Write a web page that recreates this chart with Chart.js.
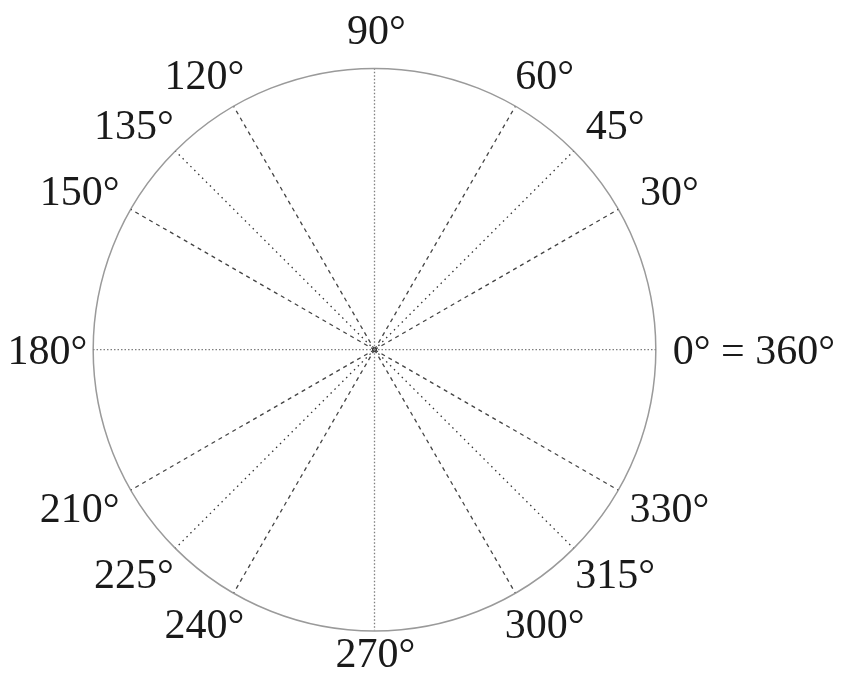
<!DOCTYPE html>
<html lang="en">
<head>
    <meta charset="UTF-8">
    <title>Angles on the unit circle</title>
    <script src="https://cdn.jsdelivr.net/npm/chart.js"></script>
    <style>
        body { margin: 0; background: #fff; }
        .chart-container { width: 850px; height: 675px; }
    </style>
</head>
<body>
    <div class="chart-container">
        <canvas id="chart" width="850" height="675"></canvas>
    </div>

    <script>
        // spokes, grouped by line style
        const axisAngles = [0, 90, 180, 270];
        const diagonalAngles = [45, 135, 225, 315];
        const dashedAngles = [30, 60, 120, 150, 210, 240, 300, 330];

        // labels round the circle
        const labelAngles = [0, 30, 45, 60, 90, 120, 135, 150, 180, 210, 225, 240, 270, 300, 315, 330];
        const labelTexts = ['0° = 360°', '30°', '45°', '60°', '90°', '120°', '135°', '150°',
                            '180°', '210°', '225°', '240°', '270°', '300°', '315°', '330°'];

        const circleRadius = 1;
        // oblique labels sit on a slightly flattened ring outside the circle
        const labelRadiusX = 1.21;
        const labelRadiusY = 1.13;

        function toRad(deg) { return deg * Math.PI / 180; }

        function spoke(angle, color, dash) {
            return {
                data: [
                    { x: 0, y: 0 },
                    { x: circleRadius * Math.cos(toRad(angle)), y: circleRadius * Math.sin(toRad(angle)) }
                ],
                showLine: true,
                borderColor: color,
                borderWidth: 1.3,
                borderDash: dash,
                pointRadius: 0
            };
        }

        const datasets = [
            ...axisAngles.map(a => spoke(a, '#7f7f7f', [1.5, 2])),
            ...diagonalAngles.map(a => spoke(a, '#333333', [1.5, 4])),
            ...dashedAngles.map(a => spoke(a, '#444444', [4, 4])),
            {
                data: [{ x: 0, y: 0 }],
                pointRadius: 2.5,
                pointBackgroundColor: '#222',
                pointBorderWidth: 0
            }
        ];

        const circlePlugin = {
            id: 'circle',
            beforeDatasetsDraw(chart) {
                const { ctx, scales: { x, y } } = chart;
                const cx = x.getPixelForValue(0);
                const cy = y.getPixelForValue(0);
                const r = x.getPixelForValue(circleRadius) - cx;
                ctx.save();
                ctx.beginPath();
                ctx.arc(cx, cy, r, 0, Math.PI * 2);
                ctx.strokeStyle = '#9a9a9a';
                ctx.lineWidth = 1.5;
                ctx.stroke();
                ctx.restore();
            }
        };

        const labelPlugin = {
            id: 'angleLabels',
            afterDraw(chart) {
                const { ctx, scales: { x, y } } = chart;
                const size = 42;
                const cx = x.getPixelForValue(0);
                const cy = y.getPixelForValue(0);
                const lift = size * 0.33; // baseline to middle of the digits
                ctx.save();
                ctx.font = size + 'px "Liberation Serif", "DejaVu Serif", serif';
                ctx.fillStyle = '#1a1a1a';
                ctx.textBaseline = 'alphabetic';
                labelAngles.forEach((a, i) => {
                    const text = labelTexts[i];
                    if (a === 0) {
                        ctx.textAlign = 'left';
                        ctx.fillText(text, x.getPixelForValue(circleRadius) + 17, cy + lift);
                    } else if (a === 180) {
                        ctx.textAlign = 'right';
                        ctx.fillText(text, x.getPixelForValue(-circleRadius) - 6, cy + lift);
                    } else if (a === 90) {
                        ctx.textAlign = 'center';
                        ctx.fillText(text, cx + 2, y.getPixelForValue(circleRadius) - 25);
                    } else if (a === 270) {
                        ctx.textAlign = 'center';
                        ctx.fillText(text, cx + 1, y.getPixelForValue(-circleRadius) + 37);
                    } else {
                        const px = x.getPixelForValue(labelRadiusX * Math.cos(toRad(a)));
                        const py = y.getPixelForValue(labelRadiusY * Math.sin(toRad(a)));
                        ctx.textAlign = 'center';
                        ctx.fillText(text, px, py + lift);
                    }
                });
                ctx.restore();
            }
        };

        new Chart('chart', {
            type: 'scatter',
            data: { datasets: datasets },
            options: {
                responsive: false,
                animation: false,
                layout: { padding: 0 },
                plugins: {
                    legend: { display: false },
                    tooltip: { enabled: false }
                },
                scales: {
                    x: { type: 'linear', min: -1.317, max: 1.676, display: false },
                    y: { type: 'linear', min: -1.145, max: 1.232, display: false }
                }
            },
            plugins: [circlePlugin, labelPlugin]
        });
    </script>
</body>
</html>
